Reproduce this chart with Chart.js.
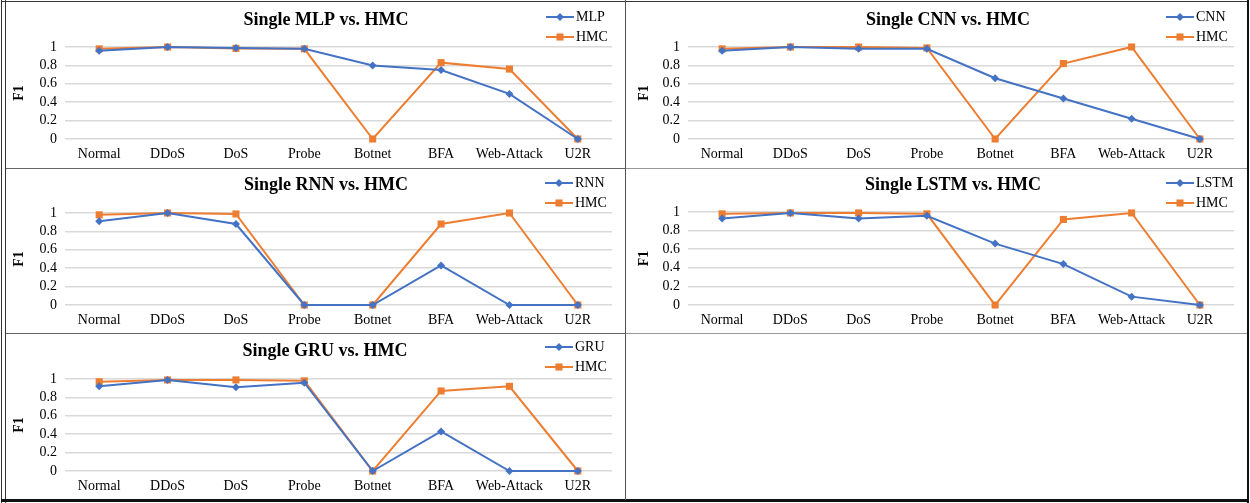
<!DOCTYPE html>
<html>
<head>
<meta charset="utf-8">
<script src="https://cdn.jsdelivr.net/npm/chart.js@4.4.1/dist/chart.umd.min.js"></script>
<style>
  body { margin: 0; background: #fff; }
  #page { position: relative; width: 1250px; height: 503px; overflow: hidden; background: #fff; }
  #page canvas { position: absolute; }
  .rule { position: absolute; background: #333; }
</style>
</head>
<body>
<div id="page">
  <canvas id="c1" width="625" height="168" style="left:0;top:0"></canvas>
  <canvas id="c2" width="623" height="168" style="left:625px;top:0"></canvas>
  <canvas id="c3" width="625" height="165" style="left:0;top:168px"></canvas>
  <canvas id="c4" width="623" height="165" style="left:625px;top:168px"></canvas>
  <canvas id="c5" width="625" height="167" style="left:0;top:333px"></canvas>

  <!-- table borders -->
  <div class="rule" style="left:1px;top:0;width:1px;height:503px"></div>
  <div class="rule" style="left:5px;top:0;width:1px;height:503px"></div>
  <div class="rule" style="left:1px;top:1px;width:1248px;height:1px"></div>
  <div class="rule" style="left:1247px;top:0;width:2px;height:503px;background:#111"></div>
  <div class="rule" style="left:1px;top:499px;width:1248px;height:3px;background:#111"></div>
  <div class="rule" style="left:625px;top:0;width:1px;height:500px;background:#555"></div>
  <div class="rule" style="left:6px;top:168px;width:619px;height:1px;background:#666"></div>
  <div class="rule" style="left:626px;top:168px;width:621px;height:1px;background:#999"></div>
  <div class="rule" style="left:6px;top:333px;width:619px;height:1px;background:#666"></div>
  <div class="rule" style="left:626px;top:333px;width:621px;height:1px;background:#999"></div>
</div>

<script>
// categories and tick values
const categories = ['Normal', 'DDoS', 'DoS', 'Probe', 'Botnet', 'BFA', 'Web-Attack', 'U2R'];
const yTicks = [0, 0.2, 0.4, 0.6, 0.8, 1];
const yTickLabels = ['0', '0.2', '0.4', '0.6', '0.8', '1'];

// F1 per class
const mlpF1    = [0.96, 1.00, 0.99, 0.98, 0.80, 0.75, 0.49, 0.00];
const hmcVsMlp = [0.98, 1.00, 0.985, 0.98, 0.00, 0.83, 0.76, 0.00];

const cnnF1    = [0.96, 1.00, 0.98, 0.98, 0.66, 0.44, 0.22, 0.00];
const hmcVsCnn = [0.98, 1.00, 1.00, 0.99, 0.00, 0.82, 1.00, 0.00];

const rnnF1    = [0.91, 1.00, 0.88, 0.00, 0.00, 0.43, 0.00, 0.00];
const hmcVsRnn = [0.98, 1.00, 0.99, 0.00, 0.00, 0.88, 1.00, 0.00];

const lstmF1    = [0.93, 0.99, 0.93, 0.96, 0.66, 0.44, 0.09, 0.00];
const hmcVsLstm = [0.98, 0.99, 0.99, 0.98, 0.00, 0.92, 0.99, 0.00];

const gruF1    = [0.92, 0.99, 0.91, 0.96, 0.00, 0.43, 0.00, 0.00];
const hmcVsGru = [0.97, 0.99, 0.99, 0.98, 0.00, 0.87, 0.92, 0.00];

const BLUE = '#4472C4';
const ORANGE = '#ED7D31';
const SERIF = '"Liberation Serif", "Times New Roman", serif';

Chart.defaults.font.family = SERIF;
Chart.defaults.color = '#000';

function drawMarker(ctx, style, x, y, r, color) {
  ctx.fillStyle = color;
  ctx.beginPath();
  if (style === 'rectRot') {
    ctx.moveTo(x - r, y);
    ctx.lineTo(x, y - r);
    ctx.lineTo(x + r, y);
    ctx.lineTo(x, y + r);
  } else {
    const s = r * Math.SQRT1_2;
    ctx.rect(x - s, y - s, 2 * s, 2 * s);
  }
  ctx.closePath();
  ctx.fill();
}

// title + small vertical legend in the top right, Excel style
const panelDecor = {
  id: 'panelDecor',
  afterDraw(chart, args, opts) {
    const ctx = chart.ctx;
    ctx.save();
    ctx.fillStyle = '#000';
    ctx.font = 'bold 18px ' + SERIF;
    ctx.textAlign = 'center';
    ctx.textBaseline = 'middle';
    ctx.fillText(opts.title, opts.titleX, opts.titleY);

    chart.data.datasets.forEach((ds, i) => {
      const y = opts.legY + i * 20;
      const x0 = opts.legX - 30, x1 = opts.legX - 2;
      ctx.strokeStyle = ds.borderColor;
      ctx.lineWidth = 2;
      ctx.beginPath();
      ctx.moveTo(x0, y);
      ctx.lineTo(x1, y);
      ctx.stroke();
      drawMarker(ctx, ds.pointStyle, (x0 + x1) / 2, y, ds.pointRadius, ds.borderColor);
      ctx.fillStyle = '#000';
      ctx.font = '14px ' + SERIF;
      ctx.textAlign = 'left';
      ctx.fillText(ds.label, opts.legX, y);
    });
    ctx.restore();
  }
};

function makeChart(p) {
  const ctx = document.getElementById(p.id).getContext('2d');
  return new Chart(ctx, {
    type: 'line',
    data: {
      labels: categories,
      datasets: [
        {
          label: p.name,
          data: p.single,
          borderColor: BLUE,
          backgroundColor: BLUE,
          borderWidth: 2,
          pointStyle: 'rectRot',
          pointRadius: 4,
          pointBorderWidth: 0,
          tension: 0,
          clip: false
        },
        {
          label: 'HMC',
          data: p.hmc,
          borderColor: ORANGE,
          backgroundColor: ORANGE,
          borderWidth: 2,
          pointStyle: 'rect',
          pointRadius: 5,
          pointBorderWidth: 0,
          tension: 0,
          clip: false
        }
      ]
    },
    options: {
      responsive: false,
      animation: false,
      events: [],
      layout: { padding: { top: p.padTop, right: p.padRight, left: 0, bottom: 0 } },
      plugins: {
        legend: { display: false },
        tooltip: { enabled: false },
        panelDecor: { title: 'Single ' + p.name + ' vs. HMC', titleX: p.titleX, titleY: p.titleY, legX: p.legX, legY: p.legY }
      },
      scales: {
        x: {
          offset: true,
          grid: { display: false, drawTicks: false },
          border: { display: false },
          ticks: { font: { size: 14 }, padding: 7, maxRotation: 0, autoSkip: false },
          afterFit: s => { s.height = p.xH; }
        },
        y: {
          min: 0,
          max: 1,
          afterBuildTicks: s => { s.ticks = yTicks.map(v => ({ value: v })); },
          grid: { color: '#D9D9D9', lineWidth: 1.5, drawTicks: false },
          border: { display: false },
          ticks: {
            font: { size: 14 },
            padding: 8,
            autoSkip: false,
            callback: (v, i) => yTickLabels[i]
          },
          title: { display: true, text: 'F1', font: { size: 14, weight: 'bold' }, padding: { top: 11, bottom: 0 } },
          afterFit: s => { s.width = p.yW; }
        }
      }
    },
    plugins: [panelDecor]
  });
}

const panels = [
  { id: 'c1', name: 'MLP',  single: mlpF1,  hmc: hmcVsMlp,  padTop: 47, xH: 29, yW: 65, padRight: 13, titleX: 326, titleY: 20, legX: 576, legY: 17 },
  { id: 'c2', name: 'CNN',  single: cnnF1,  hmc: hmcVsCnn,  padTop: 47, xH: 29, yW: 63, padRight: 14, titleX: 323, titleY: 20, legX: 571, legY: 17 },
  { id: 'c3', name: 'RNN',  single: rnnF1,  hmc: hmcVsRnn,  padTop: 45, xH: 28, yW: 65, padRight: 13, titleX: 326, titleY: 17, legX: 575, legY: 15 },
  { id: 'c4', name: 'LSTM', single: lstmF1, hmc: hmcVsLstm, padTop: 44, xH: 28, yW: 63, padRight: 14, titleX: 328, titleY: 17, legX: 571, legY: 15 },
  { id: 'c5', name: 'GRU',  single: gruF1,  hmc: hmcVsGru,  padTop: 46, xH: 29, yW: 65, padRight: 13, titleX: 325, titleY: 18, legX: 575, legY: 14 }
];

panels.forEach(makeChart);
</script>
</body>
</html>
